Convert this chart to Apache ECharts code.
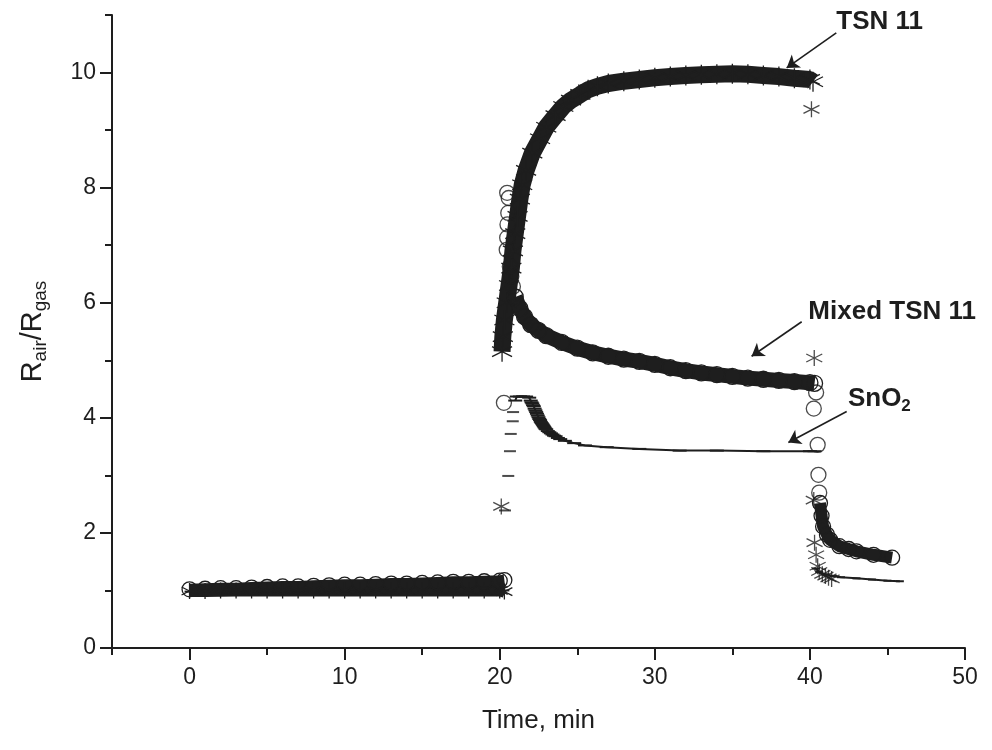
<!DOCTYPE html>
<html><head><meta charset="utf-8">
<script src="https://cdn.jsdelivr.net/npm/echarts@6/dist/echarts.min.js"></script>
<style>html,body{margin:0;padding:0;background:#fff}#c{width:992px;height:750px}</style>
</head><body><div id="c"></div>
<script>
// ---- axis ticks ----
const xTickValues = [0, 10, 20, 30, 40, 50];
const xMinorTickValues = [-5, 5, 15, 25, 35, 45];
const yTickValues = [0, 2, 4, 6, 8, 10];
const yMinorTickValues = [1, 3, 5, 7, 9, 11];

// ---- TSN 11 (asterisks) ----
const tsn11Base = [[0,0.99],[1,0.99],[2,1.0],[3,1.0],[4,1.0],[5,1.0],[6,1.0],[7,1.0],[8,1.0],[9,1.0],[10,1.0],[11,1.0],[12,1.0],[13,1.0],[14,1.0],[15,1.0],[16,1.0],[17,1.0],[18,1.0],[19,1.0],[20,1.0],[20.3,0.98]];
const tsn11Jump = [[20.1,2.46]];
const tsn11Rise = [[20.15,5.15],[20.2,5.41],[20.3,5.7],[20.45,6.0],[20.6,6.3],[20.75,6.6],[20.85,6.9],[21.0,7.2],[21.15,7.5],[21.3,7.8],[21.45,8.05],[21.7,8.3],[22.1,8.6],[22.6,8.85],[23.0,9.05],[23.6,9.25],[24.1,9.41],[24.6,9.52],[25.2,9.62],[25.7,9.7],[26.3,9.76],[27,9.81],[28,9.85],[29,9.88],[30,9.91],[31,9.93],[32,9.95],[33,9.96],[34,9.97],[35,9.98],[36,9.97],[37,9.95],[38,9.93],[39,9.9],[40,9.88],[40.2,9.84]];
const tsn11Drop = [[40.1,9.36],[40.28,5.04],[40.25,2.57],[40.3,1.83],[40.4,1.62],[40.5,1.42],[40.6,1.33],[40.8,1.28],[41.0,1.25],[41.2,1.22],[41.4,1.2]];

// ---- Mixed TSN 11 (open circles) ----
const mixedBase = [[0,1.02],[1,1.03],[2,1.04],[3,1.04],[4,1.05],[5,1.06],[6,1.07],[7,1.07],[8,1.08],[9,1.09],[10,1.1],[11,1.1],[12,1.11],[13,1.12],[14,1.12],[15,1.13],[16,1.14],[17,1.15],[18,1.15],[19,1.16],[20,1.17],[20.3,1.18]];
const mixedJump = [[20.27,4.26],[20.48,7.91],[20.58,7.82],[20.55,7.56],[20.5,7.36],[20.48,7.13],[20.45,6.92],[20.65,6.63],[20.75,6.46],[20.85,6.28]];
const mixedDecay = [[21.0,6.1],[21.3,5.9],[21.6,5.76],[22.0,5.62],[22.5,5.52],[23,5.43],[24,5.31],[25,5.21],[26,5.13],[27,5.07],[28,5.02],[29,4.98],[30,4.93],[31,4.87],[32,4.82],[33,4.78],[34,4.75],[35,4.72],[36,4.69],[37,4.67],[38,4.65],[39,4.63],[40,4.61],[40.3,4.6]];
const mixedDrop = [[40.4,4.44],[40.25,4.16],[40.5,3.53],[40.55,3.01],[40.6,2.7]];
const mixedTail = [[40.65,2.52],[40.75,2.3],[40.85,2.11],[41.1,1.97],[41.3,1.88],[41.9,1.77],[42.5,1.72],[43.0,1.68],[44.1,1.62],[45.3,1.57]];

// ---- SnO2 (dashes) ----
const snBase = [[0,0.98],[1,0.98],[2,0.98],[3,0.99],[4,0.99],[5,0.99],[6,0.99],[7,0.99],[8,0.99],[9,0.99],[10,1.0],[11,1.0],[12,1.0],[13,1.0],[14,1.0],[15,1.0],[16,1.0],[17,1.0],[18,1.0],[19,1.0],[20,1.0],[20.3,1.0]];
const snJump = [[20.34,2.39],[20.55,2.99],[20.66,3.42],[20.71,3.72],[20.84,3.94],[20.86,4.1]];
const snDecay = [[21.0,4.3],[21.1,4.37],[21.3,4.37],[21.5,4.37],[21.7,4.37],[21.9,4.35],[22.0,4.3],[22.05,4.27],[22.1,4.25],[22.15,4.22],[22.2,4.2],[22.25,4.16],[22.3,4.13],[22.35,4.1],[22.4,4.07],[22.45,4.04],[22.5,4.01],[22.55,3.98],[22.6,3.96],[22.65,3.93],[22.7,3.91],[22.75,3.89],[22.8,3.87],[22.85,3.85],[22.9,3.83],[22.95,3.81],[23.0,3.8],[23.1,3.77],[23.2,3.75],[23.3,3.73],[23.4,3.71],[23.5,3.69],[23.6,3.68],[23.75,3.65],[23.9,3.63],[24.2,3.6],[24.8,3.56],[25.5,3.52],[26.9,3.49],[29,3.46],[31.6,3.43],[34,3.43],[37,3.42],[40,3.42],[40.3,3.42]];
const snTail = [[40.4,1.38],[40.6,1.32],[41,1.28],[41.5,1.25],[42,1.23],[43,1.21],[44,1.19],[45,1.17],[45.8,1.16]];

// ---- annotations (data coordinates) ----
const labelTexts = ['TSN 11', 'Mixed TSN 11', 'SnO2'];
const arrowFrom = [[41.7,10.69],[39.47,5.67],[42.37,4.11]];
const arrowTo = [[38.5,10.08],[36.24,5.07],[38.61,3.57]];
const labelAnchor = [[44.5,10.89],[39.9,5.84],[42.45,4.33]];

const INK = '#1e1e1e';
const FONT = '"Liberation Sans", Arial, sans-serif';
const ASTERISK = 'path://M0,-10L0,10M-8.66,-5L8.66,5M-8.66,5L8.66,-5';
const DASH = 'rect';

function band(data, symbol, size, lineWidth, stroke, extra) {
  const s = {
    type: 'line', data: data, symbol: symbol, symbolSize: size, showSymbol: true,
    lineStyle: {color: INK, width: lineWidth}, silent: true, animation: false,
    itemStyle: stroke ? {color: 'transparent', borderColor: INK, borderWidth: 1.3} : {color: INK, borderWidth: 0},
    emphasis: {disabled: true}, z: 3
  };
  return Object.assign(s, extra || {});
}
function pts(data, symbol, size, stroke) {
  return {
    type: 'scatter', data: data, symbol: symbol, symbolSize: size, silent: true, animation: false,
    itemStyle: stroke ? {color: 'transparent', borderColor: INK, borderWidth: 1.3} : {color: INK, borderWidth: 0},
    emphasis: {disabled: true}, z: 4
  };
}

const chart = echarts.init(document.getElementById('c'), null, {renderer: 'canvas'});
const arrowLines = arrowFrom.map((f, i) => [{coord: f}, {coord: arrowTo[i]}]);

chart.setOption({
  backgroundColor: '#fff',
  animation: false,
  grid: {left: 112, right: 27, top: 15, bottom: 102, outerBoundsMode: 'none', containLabel: false},
  xAxis: [{
    type: 'value', min: -5, max: 50, position: 'bottom',
    name: 'Time, min', nameLocation: 'middle', nameGap: 60,
    nameTextStyle: {fontFamily: FONT, fontSize: 26, color: INK},
    axisLine: {show: true, onZero: false, lineStyle: {color: INK, width: 2}},
    axisTick: {show: true, inside: false, length: 12, customValues: xTickValues, lineStyle: {color: INK, width: 2}},
    axisLabel: {show: true, customValues: xTickValues, margin: 18, fontFamily: FONT, fontSize: 23, color: INK},
    splitLine: {show: false}
  }, {
    type: 'value', min: -5, max: 50, position: 'bottom',
    axisLine: {show: false, onZero: false},
    axisTick: {show: true, inside: false, length: 7, customValues: xMinorTickValues, lineStyle: {color: INK, width: 2}},
    axisLabel: {show: false}, splitLine: {show: false}
  }],
  yAxis: [{
    type: 'value', min: 0, max: 11, position: 'left',
    name: '{r|R}{s|air}{r|/R}{s|gas}', nameLocation: 'middle', nameGap: 62, nameRotate: 90,
    nameTextStyle: {
      color: INK,
      rich: {
        r: {fontFamily: FONT, fontSize: 29, color: INK, lineHeight: 34, verticalAlign: 'middle'},
        s: {fontFamily: FONT, fontSize: 19, color: INK, lineHeight: 18, verticalAlign: 'bottom'}
      }
    },
    axisLine: {show: true, onZero: false, lineStyle: {color: INK, width: 2}},
    axisTick: {show: true, inside: false, length: 12, customValues: yTickValues, lineStyle: {color: INK, width: 2}},
    axisLabel: {show: true, customValues: yTickValues, margin: 16, fontFamily: FONT, fontSize: 23, color: INK},
    splitLine: {show: false}
  }, {
    type: 'value', min: 0, max: 11, position: 'left',
    axisLine: {show: false, onZero: false},
    axisTick: {show: true, inside: false, length: 7, customValues: yMinorTickValues, lineStyle: {color: INK, width: 2}},
    axisLabel: {show: false}, splitLine: {show: false}
  }],
  series: [
    // SnO2
    band(snBase, DASH, [10, 2], 10, false),
    pts(snJump, DASH, [12, 2], false),
    band(snDecay, DASH, [14, 2], 2, false),
    band(snTail, DASH, [8, 2], 2, false),
    // TSN 11
    band(tsn11Base, ASTERISK, 16, 12, true),
    pts(tsn11Jump, ASTERISK, 16, true),
    band(tsn11Rise, ASTERISK, 20, 17, true),
    pts(tsn11Drop, ASTERISK, 16, true),
    // Mixed TSN 11
    band(mixedBase, 'circle', 15, 11, true),
    pts(mixedJump, 'circle', 15, true),
    band(mixedDecay, 'circle', 16, 15, true),
    pts(mixedDrop, 'circle', 15, true),
    band(mixedTail, 'circle', 15, 12, true),
    // arrows
    {
      type: 'line', data: [], silent: true, animation: false,
      markLine: {
        silent: true, animation: false,
        symbol: ['none', 'arrow'], symbolSize: 12,
        lineStyle: {color: INK, width: 1.6, type: 'solid'},
        itemStyle: {color: INK},
        label: {show: false}, emphasis: {disabled: true},
        data: arrowLines
      }
    }
  ]
});

const p = labelAnchor.map(a => chart.convertToPixel({gridIndex: 0}, a));
chart.setOption({
  graphic: [
    {type: 'text', x: p[0][0], y: p[0][1], style: {text: labelTexts[0], font: 'bold 26px ' + FONT, fill: INK, align: 'center', verticalAlign: 'middle'}},
    {type: 'text', x: p[1][0], y: p[1][1], style: {text: labelTexts[1], font: 'bold 26px ' + FONT, fill: INK, align: 'left', verticalAlign: 'middle'}},
    {type: 'text', x: p[2][0], y: p[2][1], style: {
      text: '{a|SnO}{b|2}', align: 'left', verticalAlign: 'middle',
      rich: {
        a: {font: 'bold 26px ' + FONT, fill: INK, lineHeight: 32, verticalAlign: 'middle'},
        b: {font: 'bold 17px ' + FONT, fill: INK, lineHeight: 16, verticalAlign: 'bottom'}
      }
    }}
  ]
});
</script>
</body></html>
